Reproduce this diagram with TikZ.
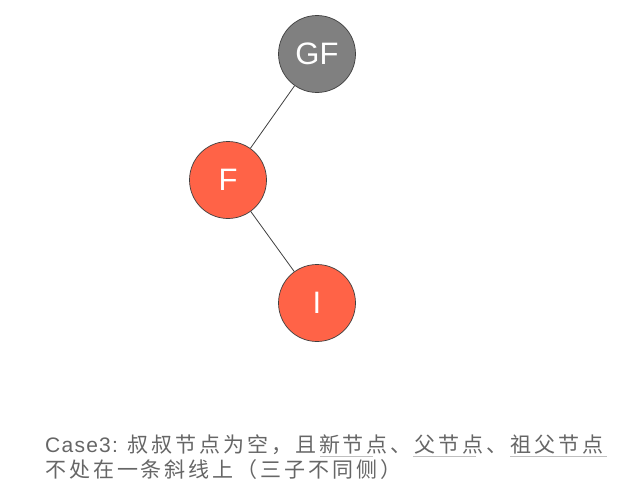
\documentclass[tikz,border=0pt]{standalone}
\usepackage{fontspec}
\setmainfont{Liberation Sans}
\newfontfamily\cjk[LetterSpace=14]{Noto Sans CJK SC}
\newfontfamily\latsp[LetterSpace=6]{Liberation Sans}
\begin{document}
\begin{tikzpicture}[x=1pt,y=-1pt,
  rbnode/.style={circle,draw=black!75,line width=0.7pt,minimum size=77pt,inner sep=0pt,
    text=white,font=\fontsize{31}{31}\selectfont},
  graynode/.style={rbnode,fill=black!50},
  edge/.style={draw=black!75,line width=0.8pt},
  caption/.style={anchor=base west,inner sep=0pt,text=black!60},
  uline/.style={draw=black!25,line width=0.8pt}]
\useasboundingbox (0,0) rectangle (623,495);
\definecolor{tomatored}{HTML}{FF6347}
\node[graynode] (gf) at (317,54) {GF};
\node[rbnode,fill=tomatored] (f) at (228,180) {F};
\node[rbnode,fill=tomatored] (i) at (317,303) {I};
\draw[edge] (gf) -- (f);
\draw[edge] (f) -- (i);
\node[caption] (l1) at (45,452) {\fontsize{21}{21}\selectfont\latsp Case3: \cjk 叔叔节点为空，且新节点、父节点、祖父节点};
\node[caption] (l2) at (45,477) {\fontsize{21}{21}\selectfont\cjk 不处在一条斜线上（三子不同侧）};
\draw[uline] (320,456) -- (373,456);
\draw[uline] (413,456) -- (476,456);
\draw[uline] (510,456) -- (607,456);
\end{tikzpicture}
\end{document}
